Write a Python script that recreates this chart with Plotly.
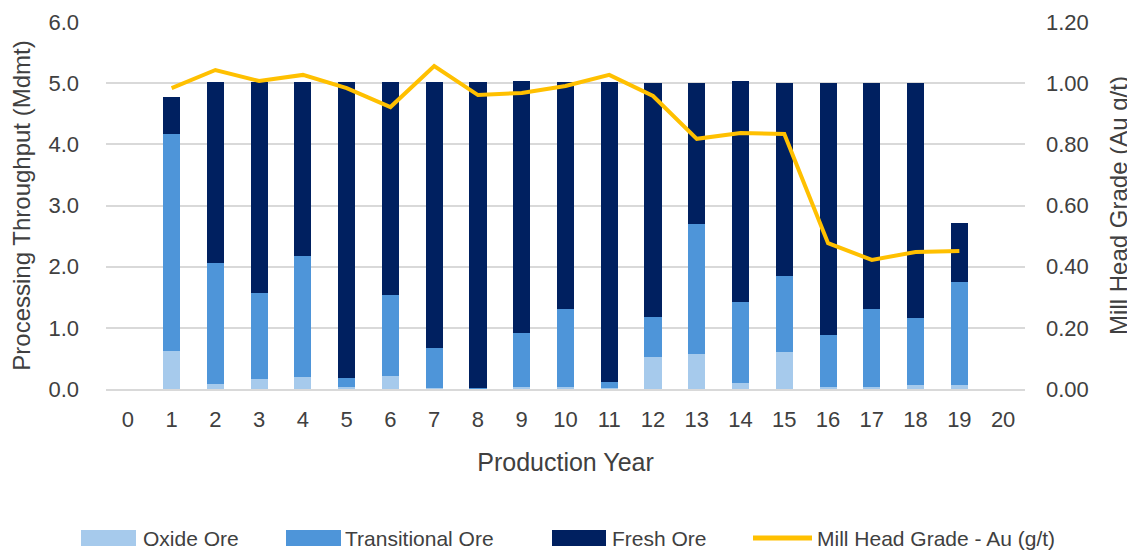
import plotly.graph_objects as go

years = list(range(0, 21))
bar_years = list(range(1, 20))
oxide = [0.62, 0.08, 0.17, 0.20, 0.03, 0.22, 0.01, 0.00, 0.04, 0.04, 0.01, 0.52, 0.57, 0.10, 0.61, 0.03, 0.04, 0.06, 0.07]
transitional = [3.55, 1.98, 1.40, 1.97, 0.15, 1.32, 0.66, 0.02, 0.88, 1.27, 0.10, 0.66, 2.13, 1.32, 1.24, 0.85, 1.27, 1.10, 1.68]
fresh = [0.61, 2.96, 3.45, 2.85, 4.84, 3.48, 4.35, 5.00, 4.11, 3.71, 4.91, 3.82, 2.30, 3.61, 3.15, 4.13, 3.69, 3.85, 0.96]
grade = [0.984, 1.043, 1.007, 1.027, 0.984, 0.922, 1.056, 0.961, 0.968, 0.991, 1.027, 0.958, 0.818, 0.837, 0.834, 0.477, 0.422, 0.448, 0.451]

series_names = ["Oxide Ore", "Transitional Ore", "Fresh Ore", "Mill Head Grade - Au (g/t)"]
series_colors = ["#A6CAEC", "#4E95D9", "#002060", "#FFC000"]

# page body has an 8px margin: size the figure to fit inside the window
OFF = 8
W, H = 1135 - OFF, 554 - OFF
PL, PR, PT, PB = 106, 1025, 22, 389   # plot area in window pixels
ML, MR, MT, MB = PL - OFF, W - (PR - OFF), PT - OFF, H - (PB - OFF)
PW, PH = PR - PL, PB - PT

def px_x(px):
    return (px - PL) / PW

def px_y(py):
    return (PB - py) / PH

FONT = "Liberation Sans"
TXT = "#404040"

fig = go.Figure()
for vals, name, col in zip([oxide, transitional, fresh], series_names[:3], series_colors[:3]):
    fig.add_trace(go.Bar(x=bar_years, y=vals, name=name, marker_color=col, width=0.39,
                         marker_line_width=0, showlegend=False))
fig.add_trace(go.Scatter(x=bar_years, y=grade, name=series_names[3], mode="lines",
                         line=dict(color=series_colors[3], width=4), yaxis="y2", showlegend=False))

# legend drawn manually (wide swatches like the original)
legend_items = [(81, 136, 143), (286, 341, 345), (552, 606, 612), (753, 812, 817)]
ly = 538
shapes = []
annotations = []
for i, (s0, s1, tx) in enumerate(legend_items):
    if i < 3:
        shapes.append(dict(type="rect", xref="paper", yref="paper",
                           x0=px_x(s0), x1=px_x(s1), y0=px_y(ly + 8), y1=px_y(ly - 8),
                           fillcolor=series_colors[i], line=dict(width=0)))
    else:
        shapes.append(dict(type="line", xref="paper", yref="paper",
                           x0=px_x(s0), x1=px_x(s1), y0=px_y(ly), y1=px_y(ly),
                           line=dict(color=series_colors[i], width=5)))
    annotations.append(dict(text=series_names[i], xref="paper", yref="paper",
                            x=px_x(tx - 2), y=px_y(ly), xanchor="left", yanchor="middle",
                            showarrow=False, font=dict(family=FONT, size=21, color=TXT)))

fig.update_layout(
    barmode="stack",
    width=W, height=H,
    margin=dict(l=ML, r=MR, t=MT, b=MB, pad=0, autoexpand=False),
    plot_bgcolor="white", paper_bgcolor="white",
    font=dict(family=FONT, color=TXT, size=20),
    showlegend=False,
    shapes=shapes,
    annotations=annotations,
    xaxis=dict(range=[-0.5, 20.5], tickmode="array", tickvals=years, ticktext=[str(y) for y in years],
               showgrid=False, showline=True, linecolor="#D9D9D9", linewidth=2, ticks="",
               automargin=False, ticklabelstandoff=10,
               title=dict(text="Production Year", font=dict(size=25, color=TXT), standoff=22),
               tickfont=dict(size=22, color=TXT)),
    yaxis=dict(range=[0, 6], tickmode="array", tickvals=[0, 1, 2, 3, 4, 5, 6],
               ticktext=["0.0", "1.0", "2.0", "3.0", "4.0", "5.0", "6.0"],
               showgrid=True, gridcolor="#D9D9D9", gridwidth=2, zeroline=False,
               automargin=False, ticklabelstandoff=26,
               title=dict(text="Processing Throughput (Mdmt)", font=dict(size=24, color=TXT), standoff=14),
               tickfont=dict(size=22, color=TXT)),
    yaxis2=dict(range=[0, 1.2], overlaying="y", side="right", tickmode="array",
                tickvals=[0, 0.2, 0.4, 0.6, 0.8, 1.0, 1.2],
                ticktext=["0.00", "0.20", "0.40", "0.60", "0.80", "1.00", "1.20"],
                showgrid=False, zeroline=False, automargin=False, ticklabelstandoff=20,
                title=dict(text="Mill Head Grade (Au g/t)", font=dict(size=24, color=TXT), standoff=22),
                tickfont=dict(size=22, color=TXT)),
)
fig.write_html("out.html")
